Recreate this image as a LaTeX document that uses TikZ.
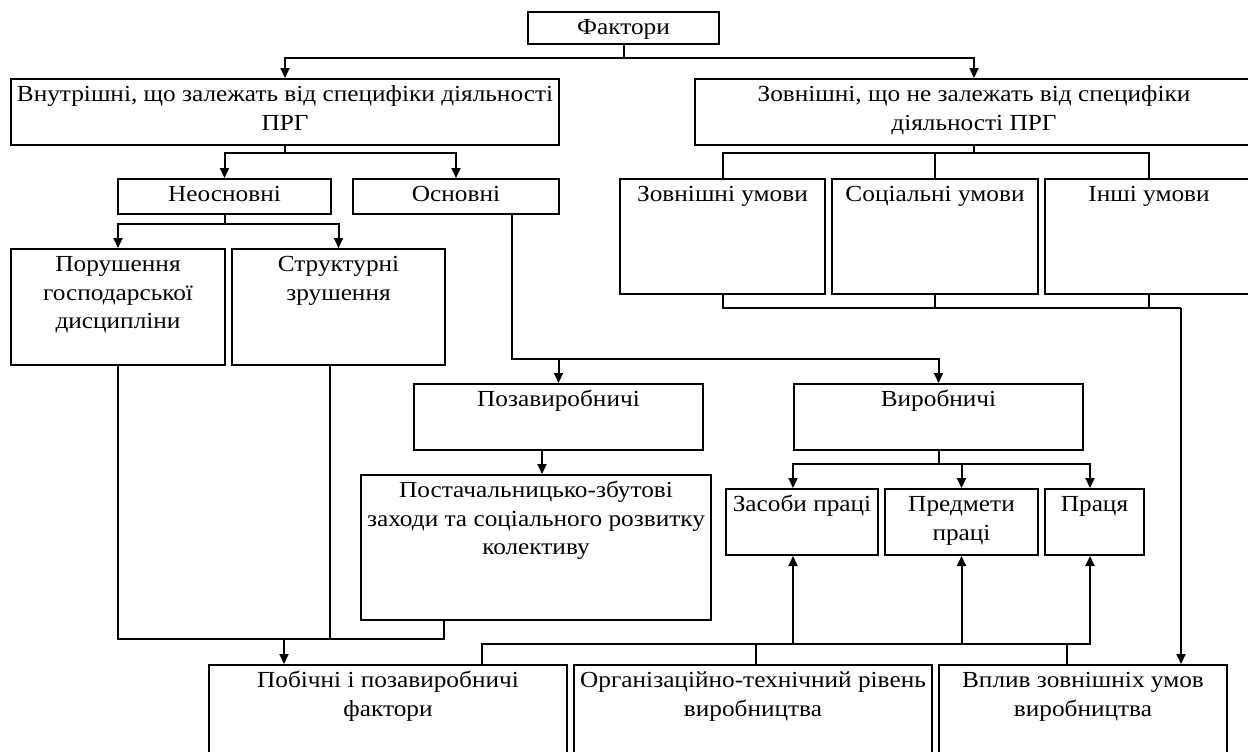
\documentclass[tikz,border=0pt]{standalone}
\usepackage{fontspec}
\setmainfont{Liberation Serif}[FakeStretch=1.1]
\usetikzlibrary{arrows.meta,calc}
\tikzset{
  box/.style={draw, line width=1pt, rectangle, inner sep=0pt},
  lbl/.style={font=\fontsize{11.5}{14.15}\selectfont, align=center, inner sep=0pt, anchor=north},
  conn/.style={line width=1pt},
  arr/.style={conn, -{Triangle[length=5pt,width=4.5pt]}},
}
\newcommand\bx[5]{\node[box, minimum width={(#4-#2)*0.5pt}, minimum height={(#5-#3)*0.5pt}, anchor=north west] (#1) at (#2,#3) {};}
\newcommand\lb[3]{\node[lbl] (#1) at ($(#2.north)+(0,3.7)$) {\strut #3};}
\begin{document}
\begin{tikzpicture}[x=0.5pt,y=-0.5pt]
\useasboundingbox (0,0) rectangle (1248,751);
\clip (0,0) rectangle (1248,751);
% boxes
\bx{fak}{527}{11}{718}{43}
\bx{vnut}{10}{78}{558}{144}
\bx{zovn}{694}{78}{1252}{144}
\bx{neos}{117}{178}{330}{213}
\bx{osn}{352}{178}{558}{213}
\bx{zu}{619}{178}{824}{293}
\bx{su}{831}{178}{1037}{293}
\bx{iu}{1044}{178}{1252}{293}
\bx{por}{10}{248}{224}{364}
\bx{str}{231}{248}{444}{364}
\bx{poza}{413}{383}{702}{449}
\bx{vyr}{793}{383}{1082}{449}
\bx{post}{360}{474}{710}{619}
\bx{zas}{725}{488}{877}{554}
\bx{pred}{884}{488}{1037}{554}
\bx{pr}{1044}{488}{1143}{554}
\bx{pob}{208}{664}{566}{790}
\bx{org}{573}{664}{931}{790}
\bx{vpl}{938}{664}{1226}{790}
% labels
\lb{t-fak}{fak}{Фактори}
\lb{t-vnut}{vnut}{Внутрішні, що залежать від специфіки діяльності\\ПРГ}
\lb{t-zovn}{zovn}{Зовнішні, що не залежать від специфіки\\діяльності ПРГ}
\lb{t-neos}{neos}{Неосновні}
\lb{t-osn}{osn}{Основні}
\lb{t-zu}{zu}{Зовнішні умови}
\lb{t-su}{su}{Соціальні умови}
\lb{t-iu}{iu}{Інші умови}
\lb{t-por}{por}{Порушення\\господарської\\дисципліни}
\lb{t-str}{str}{Структурні\\зрушення}
\lb{t-poza}{poza}{Позавиробничі}
\lb{t-vyr}{vyr}{Виробничі}
\lb{t-post}{post}{Постачальницько-збутові\\заходи та соціального розвитку\\колективу}
\lb{t-zas}{zas}{Засоби праці}
\lb{t-pred}{pred}{Предмети\\праці}
\lb{t-pr}{pr}{Праця}
\lb{t-pob}{pob}{Побічні і позавиробничі\\фактори}
\lb{t-org}{org}{Організаційно-технічний рівень\\виробництва}
\lb{t-vpl}{vpl}{Вплив зовнішніх умов\\виробництва}
% level and column coordinates
\coordinate (h1) at (0,58);
\coordinate (h2) at (0,153);
\coordinate (h3) at (0,224);
\coordinate (h4) at (0,464);
\coordinate (h5) at (0,639);
\coordinate (h6) at (0,644);
\coordinate (o1) at (512,213);
\coordinate (o2) at (512,359);
\coordinate (e1) at (1181,308);
\coordinate (p1) at (542,0);
\coordinate (z1) at (793,0);
\coordinate (z3) at (1090,0);
\coordinate (s1) at (330,0);
\coordinate (s2) at (444,0);
\coordinate (s3) at (284,0);
\coordinate (b1) at (482,0);
\coordinate (b2) at (756,0);
\coordinate (b3) at (1067,0);
% connectors
\draw[arr] (fak.south) -- (fak.south|-h1) -| (vnut.north);
\draw[arr] (fak.south|-h1) -| (zovn.north);
\draw[arr] (vnut.south) -- (vnut.south|-h2) -| (neos.north);
\draw[arr] (vnut.south|-h2) -| (osn.north);
\draw[conn] (zovn.south) -- (zovn.south|-h2) -| (zu.north);
\draw[conn] (zovn.south|-h2) -| (iu.north);
\draw[conn] (su.north|-h2) -- (su.north);
\draw[conn] (zu.south) |- (e1);
\draw[conn] (su.south) -- (su.south|-e1);
\draw[conn] (iu.south) -- (iu.south|-e1);
\draw[arr] (e1) -- (e1|-vpl.north);
\draw[arr] (neos.south) -- (neos.south|-h3) -| (por.north);
\draw[arr] (neos.south|-h3) -| (str.north);
\draw[arr] (o1) -- (o2) -| (vyr.north);
\draw[arr] (poza.north|-o2) -- (poza.north);
\draw[arr] (poza.south-|p1) -- (post.north-|p1);
\draw[arr] (vyr.south) -- (vyr.south|-h4) -| (zas.north-|z1);
\draw[arr] (vyr.south|-h4) -| (pr.north-|z3);
\draw[arr] (pred.north|-h4) -- (pred.north);
\draw[conn] (por.south) |- (s2|-h5) -- (post.south-|s2);
\draw[conn] (str.south-|s1) -- (s1|-h5);
\draw[arr] (s3|-h5) -- (pob.north-|s3);
\draw[arr] (pob.north-|b1) |- (z3|-h6) -- (pr.south-|z3);
\draw[arr] (z1|-h6) -- (zas.south-|z1);
\draw[arr] (pred.south|-h6) -- (pred.south);
\draw[conn] (b2|-h6) -- (org.north-|b2);
\draw[conn] (b3|-h6) -- (vpl.north-|b3);
\end{tikzpicture}
\end{document}
